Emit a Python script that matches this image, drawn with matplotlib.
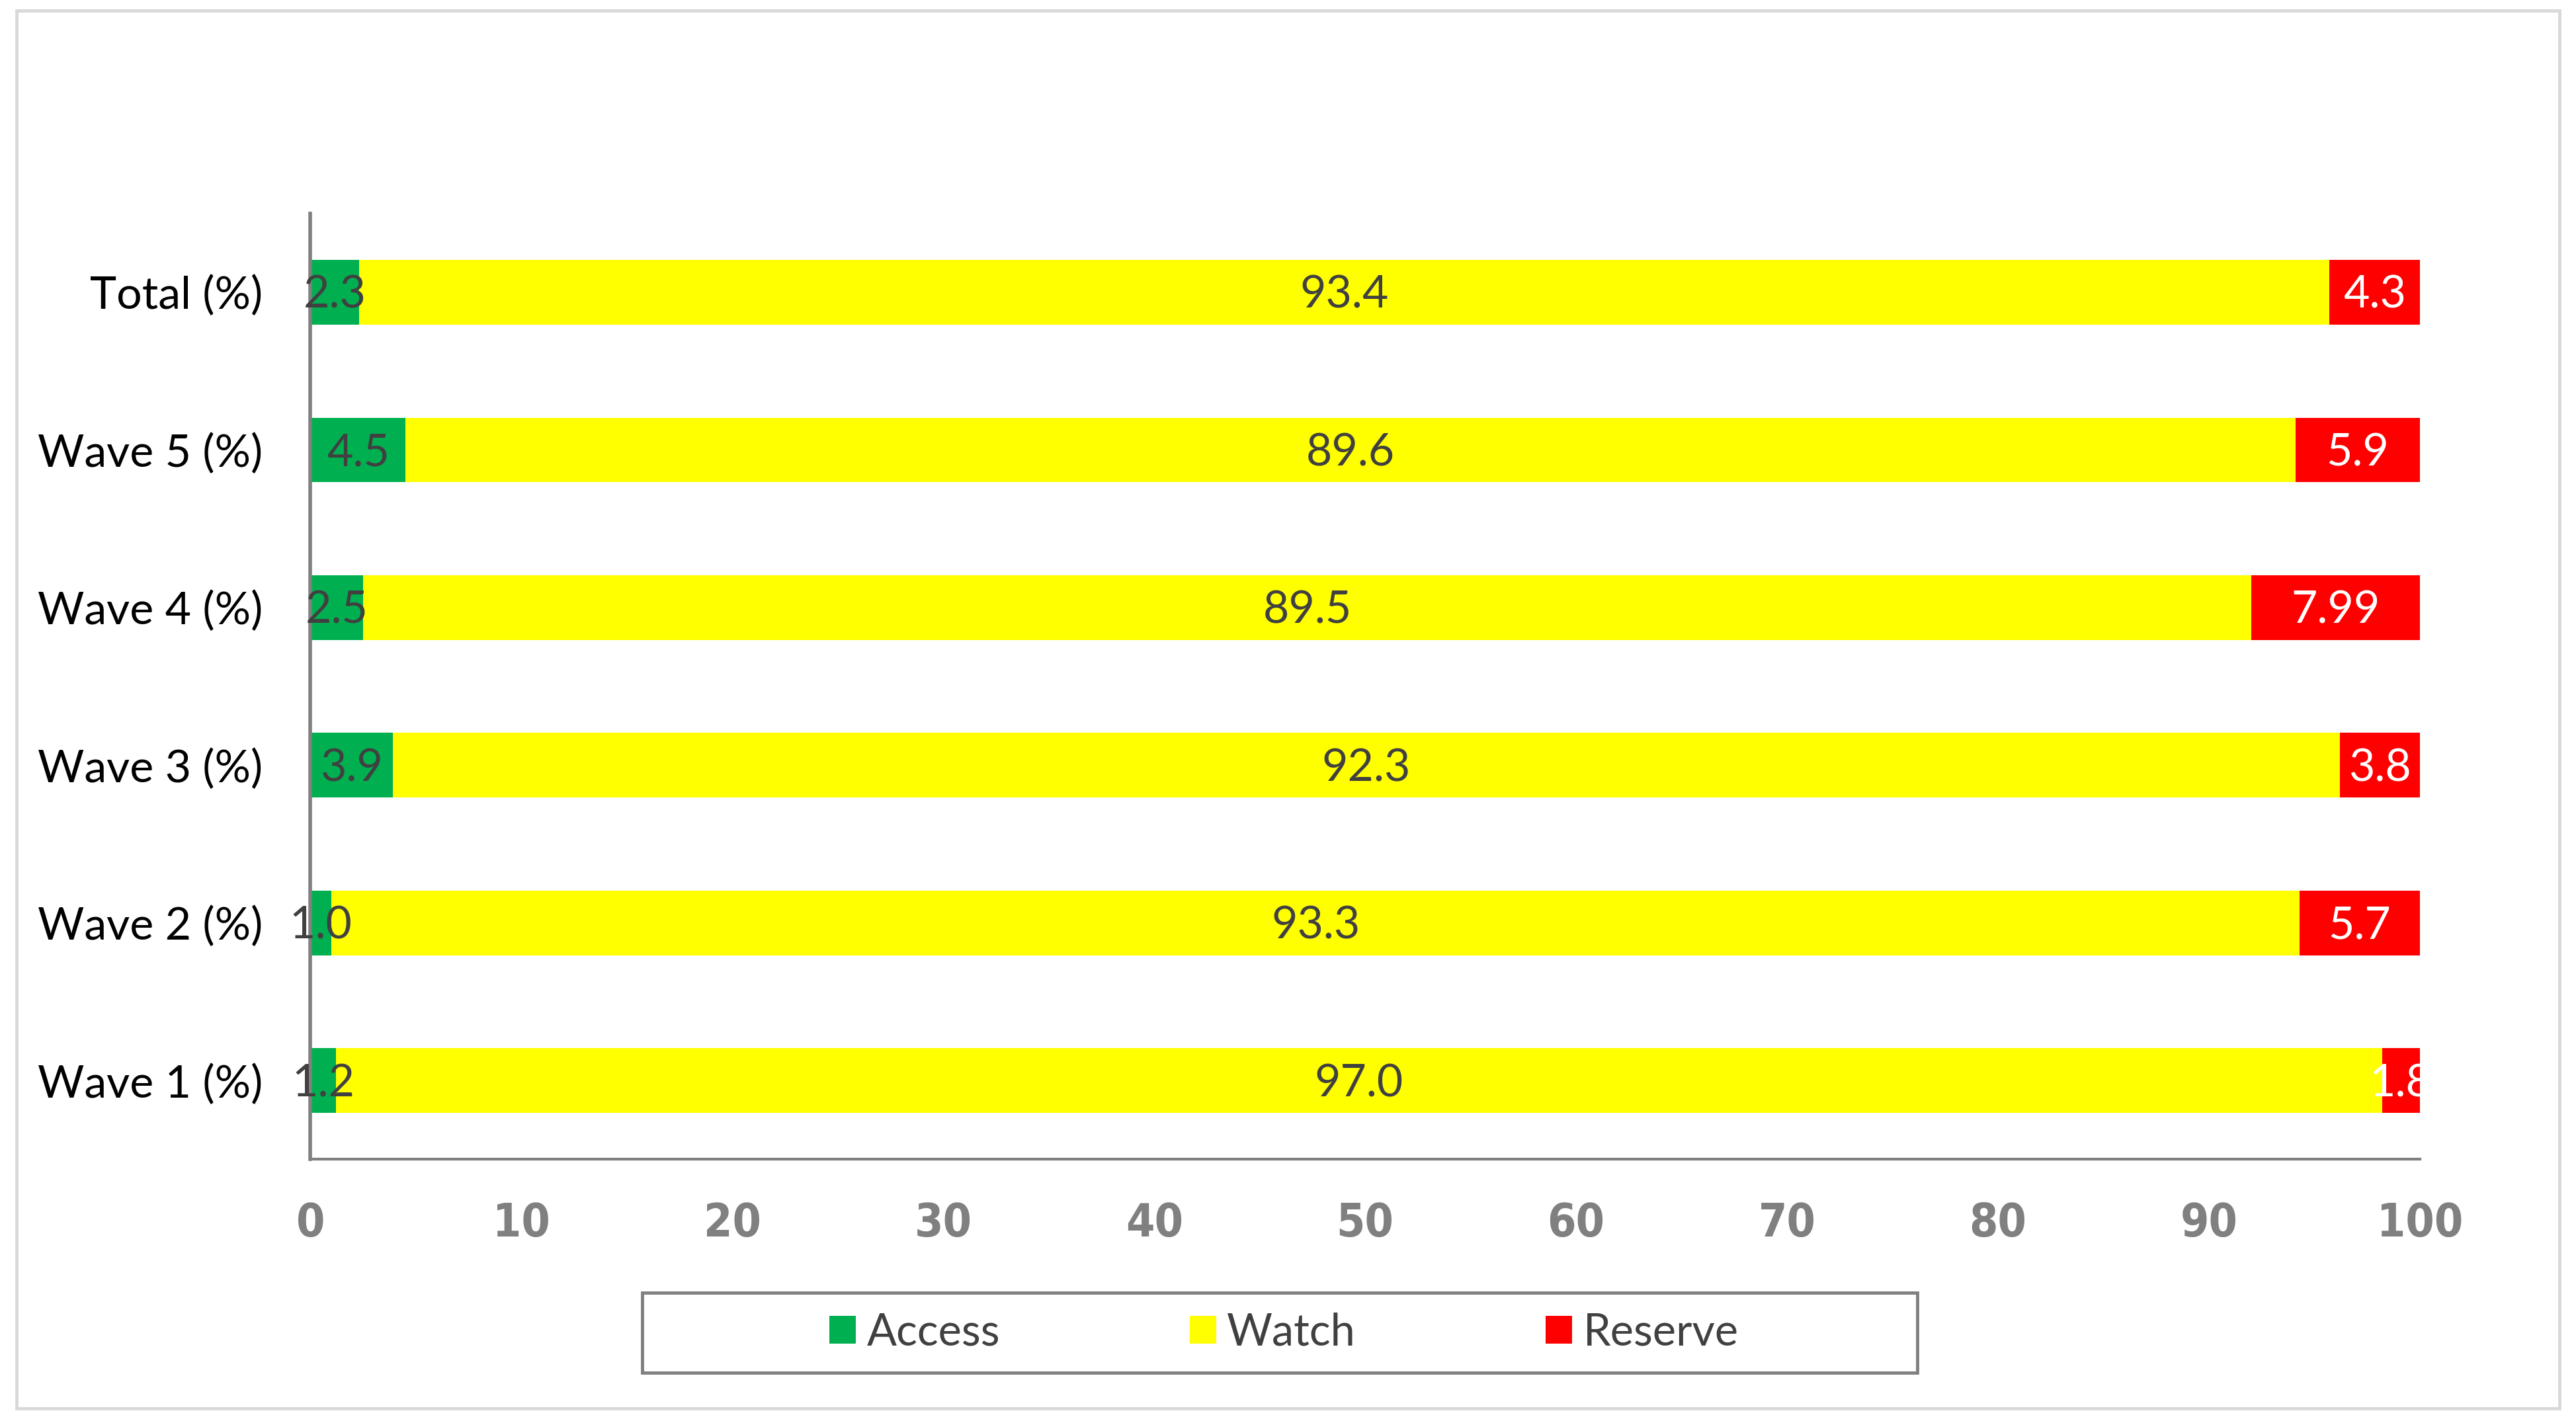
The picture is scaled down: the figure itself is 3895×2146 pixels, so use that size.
import numpy as np
import matplotlib
matplotlib.use("Agg")
import matplotlib.pyplot as plt
from matplotlib.patches import Rectangle

# data (bottom to top)
groups = ['Wave 1 (%)', 'Wave 2 (%)', 'Wave 3 (%)', 'Wave 4 (%)', 'Wave 5 (%)', 'Total (%)']
access = [1.2, 1.0, 3.9, 2.5, 4.5, 2.3]
watch = [97.0, 93.3, 92.3, 89.5, 89.6, 93.4]
reserve = [1.8, 5.7, 3.8, 7.99, 5.9, 4.3]
access_lbl = ['1.2', '1.0', '3.9', '2.5', '4.5', '2.3']
watch_lbl = ['97.0', '93.3', '92.3', '89.5', '89.6', '93.4']
reserve_lbl = ['1.8', '5.7', '3.8', '7.99', '5.9', '4.3']

FONT = ['Lato', 'DejaVu Sans']

fig = plt.figure(figsize=(38.95, 21.46), dpi=100)
ax = fig.add_axes([0.1205, 0.1829, 0.8189, 0.6667])

y = np.arange(len(groups))
acc = np.array(access)
wat = np.array(watch)
res = np.array(reserve)
h = 0.41
ax.barh(y, acc, height=h, color='#00B050', label='Access')
ax.barh(y, wat, left=acc, height=h, color='#FFFF00', label='Watch')
ax.barh(y, res, left=acc + wat, height=h, color='#FF0000', label='Reserve')

# clip labels on the right side of the plot area only
clip = Rectangle((-0.2, -0.1), 1.2, 1.2, transform=ax.transAxes, visible=False)
ax.add_patch(clip)

def put(xs, labels, color):
    for xi, yi, s in zip(xs, y, labels):
        t = ax.text(xi, yi - 0.02, s, ha='center', va='center', color=color,
                    fontsize=49, family=FONT)
        t.set_clip_path(clip)

put(acc / 2, access_lbl, '#404040')
put(acc + wat / 2, watch_lbl, '#404040')
put(acc + wat + res / 2, reserve_lbl, 'white')

ax.set_xlim(0, 100)
ax.set_ylim(-0.5, 5.5)
ax.set_xticks(np.arange(0, 101, 10))
ax.set_yticks(y)
ax.set_yticklabels(groups, family=FONT, fontsize=49, color='black')
for lab in ax.get_xticklabels():
    lab.set_family('DejaVu Sans')
    lab.set_fontstretch('condensed')
    lab.set_fontweight('bold')
    lab.set_fontsize(50)
    lab.set_color('#808080')
ax.tick_params(axis='x', length=0, pad=46)
ax.tick_params(axis='y', length=0, pad=52)

for s in ['top', 'right']:
    ax.spines[s].set_visible(False)
ax.spines['left'].set_color('#808080')
ax.spines['left'].set_linewidth(4)
ax.spines['bottom'].set_color('#808080')
ax.spines['bottom'].set_linewidth(3)

leg = fig.legend(loc='center', bbox_to_anchor=(0.4984, 0.0608), ncol=3,
                 frameon=False, prop={'family': FONT, 'size': 48},
                 handlelength=0.6, handleheight=0.6, handletextpad=0.25,
                 columnspacing=4.3, borderaxespad=0)
for t in leg.get_texts():
    t.set_color('#404040')

# legend box, wider than the entries as in the original
fig.patches.append(Rectangle((0.2494, 0.0324), 0.4949, 0.0567, transform=fig.transFigure,
                             fill=False, edgecolor='#808080', linewidth=3.5))

# outer chart border
fig.patches.append(Rectangle((0.0065, 0.0075), 0.987, 0.985, transform=fig.transFigure,
                             fill=False, edgecolor='#D9D9D9', linewidth=3.5))

fig.savefig('out.png', dpi=100)
